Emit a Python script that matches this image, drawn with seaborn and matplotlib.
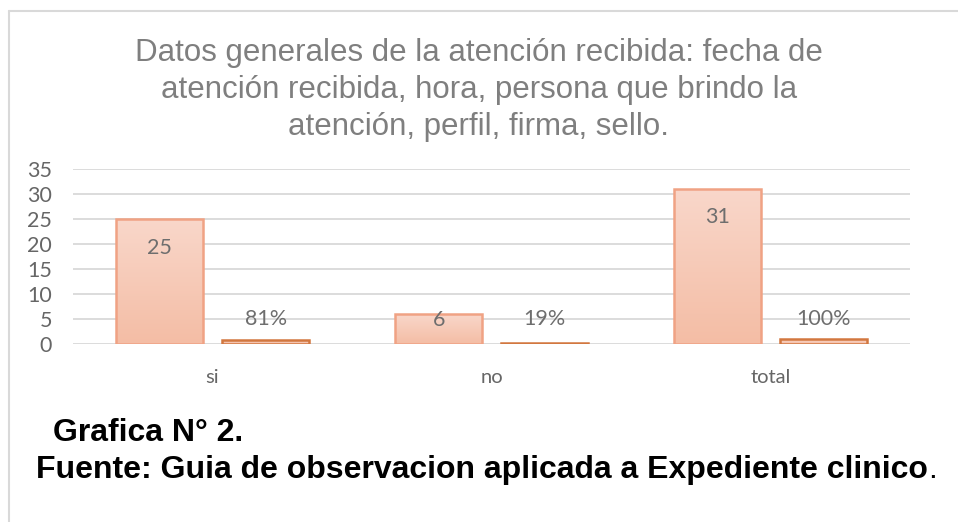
import numpy as np
import pandas as pd
import seaborn as sns
import matplotlib.pyplot as plt
from matplotlib.colors import LinearSegmentedColormap
from matplotlib.lines import Line2D

# data
categories = ["si", "no", "total"]
frecuencia = [25, 6, 31]
porcentaje = [0.81, 0.19, 1.00]
pct_labels = ["81%", "19%", "100%"]
yticks = [0, 5, 10, 15, 20, 25, 30, 35]

title = (
    "Datos generales de la atención recibida: fecha de\n"
    "atención recibida, hora, persona que brindo la\n"
    "atención, perfil, firma, sello."
)
caption_1 = "Grafica N° 2."
caption_2 = "Fuente: Guia de observacion aplicada a Expediente clinico"

df = pd.DataFrame(
    {
        "categoria": categories * 2,
        "valor": frecuencia + porcentaje,
        "serie": ["frecuencia"] * 3 + ["porcentaje"] * 3,
    }
)

sns.set_theme(style="white")
plt.rcParams["font.family"] = ["Lato", "DejaVu Sans"]

fig = plt.figure(figsize=(9.58, 5.22), dpi=100)
ax = fig.add_axes([0.0762, 0.341, 0.874, 0.335])

sns.barplot(
    data=df,
    x="categoria",
    y="valor",
    hue="serie",
    order=categories,
    hue_order=["frecuencia", "porcentaje"],
    width=0.76,
    gap=0.18,
    palette=["#F6C8B4", "#F4C0AA"],
    legend=False,
    ax=ax,
)

# gradient fill + edge colours like the Excel style
edge_colors = ["#F0A284", "#D2773F"]
grad = np.linspace(0, 1, 128).reshape(-1, 1)
cmap = LinearSegmentedColormap.from_list("salmon", ["#F4BDA5", "#F9D7CA"])
for cont, ec in zip(ax.containers, edge_colors):
    for patch in cont.patches:
        x0, y0 = patch.get_x(), patch.get_y()
        w, h = patch.get_width(), patch.get_height()
        im = ax.imshow(
            grad,
            extent=[x0, x0 + w, y0, y0 + h],
            origin="lower",
            cmap=cmap,
            aspect="auto",
            zorder=1.5,
        )
        im.set_clip_path(patch)
        patch.set_facecolor("none")
        patch.set_edgecolor(ec)
        patch.set_linewidth(1.8)
        patch.set_zorder(2)

ax.set_xlim(-0.5, 2.5)
ax.set_ylim(0, 35)
ax.set_yticks(yticks)
ax.yaxis.grid(True, color="#D9D9D9", linewidth=1.3)
ax.set_axisbelow(True)
sns.despine(ax=ax, left=True, bottom=True)
ax.set_xlabel("")
ax.set_ylabel("")
ax.tick_params(axis="y", length=0, pad=15, labelsize=15.5, labelcolor="#666666")
ax.tick_params(axis="x", length=0, pad=18, labelsize=14.5, labelcolor="#666666")

# data labels
freq_offsets = [-21, -4, -20]
for patch, val, off in zip(ax.containers[0].patches, frecuencia, freq_offsets):
    ax.annotate(
        str(val),
        (patch.get_x() + patch.get_width() / 2, patch.get_height()),
        xytext=(0, off),
        textcoords="offset points",
        ha="center",
        va="center",
        fontsize=15.5,
        color="#6E6E6E",
        zorder=3,
    )
for patch, lab in zip(ax.containers[1].patches, pct_labels):
    ax.annotate(
        lab,
        (patch.get_x() + patch.get_width() / 2, 0),
        xytext=(0, 18),
        textcoords="offset points",
        ha="center",
        va="center",
        fontsize=15.5,
        color="#6E6E6E",
        zorder=3,
    )

fig.text(
    0.5,
    1 - 90 / 522,
    title,
    ha="center",
    va="center",
    fontsize=22.5,
    linespacing=1.3,
    color="#7F7F7F",
    family="Liberation Sans",
)

fig.text(
    53 / 958,
    1 - 441 / 522,
    caption_1,
    ha="left",
    va="baseline",
    fontsize=23,
    weight="bold",
    color="black",
    family="Liberation Sans",
)
cap2 = fig.text(
    36 / 958,
    1 - 478 / 522,
    caption_2,
    ha="left",
    va="baseline",
    fontsize=23,
    weight="bold",
    color="black",
    family="Liberation Sans",
)
# final period is not bold in the reference
ax.annotate(
    ".",
    xy=(1, 0),
    xycoords=cap2,
    ha="left",
    va="bottom",
    fontsize=23,
    color="black",
    family="Liberation Sans",
    annotation_clip=False,
)

# thin frame around the chart area (left and top)
fx = 8.5 / 958
fy = 1 - 11 / 522
fig.add_artist(Line2D([fx, fx], [0, fy], transform=fig.transFigure, color="#D9D9D9", lw=1.5))
fig.add_artist(Line2D([fx, 1], [fy, fy], transform=fig.transFigure, color="#D9D9D9", lw=1.5))

fig.savefig("out.png", dpi=100)
